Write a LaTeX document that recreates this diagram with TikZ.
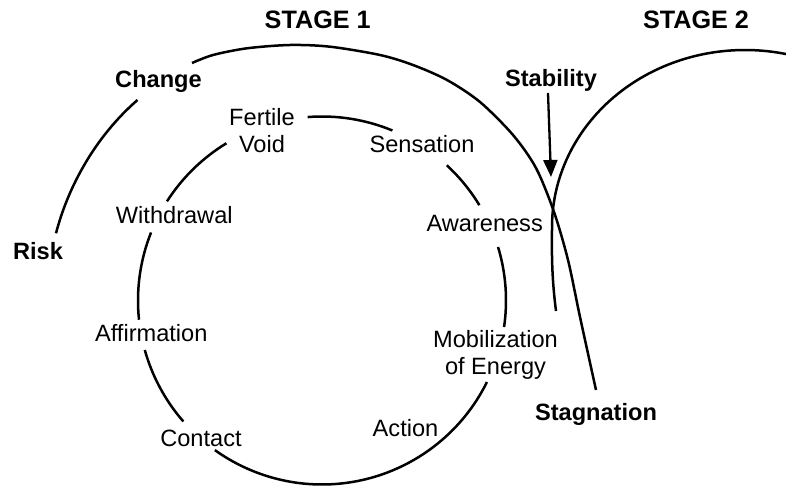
\documentclass[tikz,border=0pt]{standalone}
\usepackage{fontspec}
\setmainfont{Liberation Sans}
\usetikzlibrary{arrows.meta}
\begin{document}
\begin{tikzpicture}[x=1pt,y=1pt,
  curve/.style={line width=2.5pt},
  phase/.style={inner sep=0pt,anchor=base,align=center,
    font=\fontsize{23.6}{27.5}\selectfont},
  state/.style={inner sep=0pt,anchor=base,
    font=\fontsize{23.6}{27.5}\selectfont\bfseries},
  stagelabel/.style={inner sep=0pt,anchor=base,
    font=\fontsize{25.2}{28}\selectfont\bfseries}]
\useasboundingbox (0,0) rectangle (786,487);

% stage titles
\node[stagelabel] (s1) at (317.7,458.7) {STAGE 1};
\node[stagelabel] (s2) at (696,458.7) {STAGE 2};

% outer states
\node[state] (change) at (158.5,399.7) {Change};
\node[state] (risk) at (38,227) {Risk};
\node[state] (stability) at (551,400.1) {Stability};
\node[state] (stagnation) at (596,66.3) {Stagnation};

% phases of the cycle (base anchor sits on the last line)
\node[phase] (void) at (262,334.3) {Fertile\\Void};
\node[phase] (sensation) at (422,334.3) {Sensation};
\node[phase] (awareness) at (484.7,255.3) {Awareness};
\node[phase] (mobil) at (495.5,112) {Mobilization\\of Energy};
\node[phase] (action) at (405.5,51) {Action};
\node[phase] (contact) at (201,41) {Contact};
\node[phase] (affirm) at (151.3,145.3) {Affirmation};
\node[phase] (withdraw) at (174.3,263) {Withdrawal};

% the cycle, broken around its labels
\coordinate (c) at (322,186.5);
\foreach \a/\b in {94.5/67.5, 47.3/31.2, 16.9/-8.3, -26.3/-125.6,
                   221.1/195.6, 186/158.3, 147.4/121.3}
  \draw[curve] (c) ++(\a:184) arc[start angle=\a, end angle=\b, radius=184];

% stage 1 wave
\draw[curve] (56,253.7) .. controls (68,300) and (95,350) .. (137.5,387);
\draw[curve] plot[smooth] coordinates {(192,424) (213,432) (247,438.7) (290,442)
  (330,440.3) (380,432) (413,422) (447,407) (480,385) (513,352) (536,319)
  (554,275) (568,227) (580,170) (596,97)};

% stage 2 wave: a short rise, then a quarter ellipse running off to the right
\draw[curve] (556,176) .. controls (551,215) and (552,240) .. (552,260)
  arc[start angle=180, end angle=77.7, x radius=193, y radius=177];

% stability pointer
\coordinate (stabtail) at (548,394);
\coordinate (stabtip) at (551,310);
\draw[line width=2.3pt,-{Triangle[length=17pt,width=14pt]}] (stabtail) -- (stabtip);
\end{tikzpicture}
\end{document}
